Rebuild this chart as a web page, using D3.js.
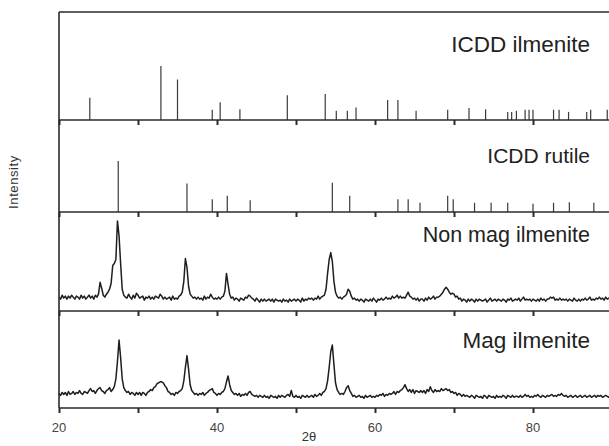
<!DOCTYPE html>
<html>
<head>
<meta charset="utf-8">
<script src="https://cdn.jsdelivr.net/npm/d3@7/dist/d3.min.js"></script>
<style>
  html, body { margin: 0; padding: 0; background: #fff; }
  svg { display: block; }
  text { font-family: "Liberation Sans", Arial, sans-serif; }
</style>
</head>
<body>
<div id="chart"></div>
<script>
// ---- Reference patterns (2θ in degrees, relative intensity) ----
const ilmeniteAngles = [23.9, 32.9, 35.0, 39.4, 40.4, 42.9, 48.9, 53.7, 55.1, 56.5, 57.6,
  61.6, 62.9, 65.2, 69.2, 71.9, 74.0, 76.8, 77.3, 77.9, 79.0, 79.5, 80.0,
  82.6, 83.3, 84.5, 86.8, 87.3, 89.4];
const ilmeniteIntensity = [41, 100, 75, 19, 33, 20, 46, 48, 17, 17, 23,
  37, 37, 17, 19, 22, 20, 15, 15, 17, 19, 19, 19,
  19, 19, 15, 15, 19, 19];

const rutileAngles = [27.5, 36.2, 39.4, 41.3, 44.2, 54.6, 56.8, 62.9, 64.2, 65.7,
  69.2, 69.9, 72.6, 74.7, 76.8, 80.0, 82.6, 84.6, 87.7];
const rutileIntensity = [100, 56, 25, 32, 23, 57, 32, 25, 25, 18,
  32, 25, 18, 18, 18, 16, 18, 19, 18];

// ---- Measured scans: 2θ from 20° to 90° in 0.2° steps ----
const scanStart = 20;
const scanStep = 0.2;

const nonMagCounts = [
  14,12,16,13,15,12,15,13,16,14,   // 20
  12,15,14,12,16,13,15,12,14,16,   // 22
  13,15,12,16,14,17,29,23,16,14,   // 24
  17,19,22,28,46,48,52,91,76,48,   // 26
  22,16,14,13,17,14,12,16,13,18,   // 28
  16,13,14,15,11,14,13,15,12,14,   // 30
  12,15,14,13,17,15,12,14,12,13,   // 32
  14,11,15,12,13,12,15,16,19,30,   // 34
  53,44,25,17,15,13,14,12,14,12,   // 36
  13,11,15,12,14,13,17,14,12,13,   // 38
  12,14,12,14,15,20,38,27,17,13,   // 40
  14,11,13,12,10,13,12,11,14,13,   // 42
  16,15,13,12,10,13,11,9,12,10,    // 44
  12,10,11,12,10,12,9,12,11,10,    // 46
  11,9,12,10,11,9,12,10,11,12,     // 48
  10,12,11,9,13,10,12,11,13,12,    // 50
  13,11,13,12,15,12,14,15,16,22,   // 52
  38,52,59,50,30,19,15,13,14,12,   // 54
  14,15,17,22,20,15,12,13,11,12,   // 56
  10,12,11,9,12,11,10,12,10,13,    // 58
  11,9,12,11,13,11,12,14,12,13,    // 60
  12,15,13,14,16,13,15,13,14,13,   // 62
  16,19,15,14,12,13,11,13,10,12,   // 64
  12,10,13,11,14,12,13,15,12,14,   // 66
  14,15,17,19,22,24,22,19,17,18,   // 68
  17,14,15,12,13,10,12,11,9,12,    // 70
  10,12,11,9,12,10,12,11,10,11,    // 72
  12,9,11,13,10,11,12,10,12,11,    // 74
  10,12,11,9,12,11,13,10,11,12,    // 76
  11,13,10,12,14,11,12,11,12,10,   // 78
  12,11,10,12,10,13,11,12,10,12,   // 80
  12,14,13,14,11,12,11,13,11,12,   // 82
  11,12,10,12,11,10,13,11,10,12,   // 84
  10,12,11,13,11,12,14,11,12,11,   // 86
  13,12,14,12,13,11,14,12,13,12,   // 88
  13                               // 90
];

const magCounts = [
  15,13,16,14,16,13,17,14,15,17,   // 20
  14,16,15,18,15,14,17,16,15,18,   // 22
  20,17,18,15,18,20,21,18,17,15,   // 24
  18,19,21,17,19,22,30,48,70,52,   // 26
  30,21,18,16,17,14,16,15,13,16,   // 28
  14,16,13,16,15,13,16,17,19,18,   // 30
  21,22,25,26,27,27,26,23,21,17,   // 32
  16,14,15,13,16,15,17,18,20,28,   // 34
  42,54,40,24,18,16,14,15,13,15,   // 36
  14,16,13,15,16,18,19,20,16,15,   // 38
  13,15,14,16,17,20,27,33,24,18,   // 40
  16,14,15,13,15,12,14,13,15,13,   // 42
  16,17,14,13,12,13,11,13,12,11,   // 44
  13,11,12,10,13,12,11,12,10,13,   // 46
  11,13,12,11,13,14,12,18,12,11,   // 48
  13,11,12,10,13,12,11,13,11,12,   // 50
  13,11,14,12,13,15,13,16,17,20,   // 52
  28,42,58,65,45,26,19,16,14,15,   // 54
  14,17,21,23,18,15,12,13,11,12,   // 56
  13,11,12,10,13,11,12,13,11,12,   // 58
  11,13,12,14,13,15,12,14,13,15,   // 60
  14,15,17,14,17,16,18,19,21,24,   // 62
  20,17,19,16,19,15,18,17,16,18,   // 64
  16,18,15,19,17,22,18,16,19,17,   // 66
  18,17,20,18,19,20,18,19,16,17,   // 68
  15,16,13,15,14,12,14,12,13,12,   // 70
  11,13,12,10,13,12,11,12,10,13,   // 72
  12,10,13,12,11,12,10,13,11,12,   // 74
  11,13,12,10,13,12,11,13,11,12,   // 76
  12,11,13,11,12,14,12,13,11,12,   // 78
  11,13,12,14,12,11,13,12,11,13,   // 80
  12,13,14,12,13,12,14,13,15,13,   // 82
  12,13,11,12,13,11,12,13,11,12,   // 84
  13,11,12,13,11,12,13,11,12,13,   // 86
  11,13,12,13,11,12,13,12,11,13,   // 88
  12                               // 90
];

const panelLabels = ["ICDD ilmenite", "ICDD rutile", "Non mag ilmenite", "Mag ilmenite"];
const xTickValues = [20, 30, 40, 50, 60, 70, 80, 90];
const xTickLabels = ["20", "40", "60", "80"];
const xTitle = "2θ";
const yTitle = "Intensity";

// ---- Layout ----
const W = 609, H = 446;
const svg = d3.select("#chart").append("svg").attr("width", W).attr("height", H);

const x = d3.scaleLinear().domain([20, 90]).range([59, 612]);

const panels = [
  { top: 12,  bottom: 120, yMax: 200, kind: "stick", angles: ilmeniteAngles, values: ilmeniteIntensity, fs: 22.5, base: 52 },
  { top: 120, bottom: 212, yMax: 180, kind: "stick", angles: rutileAngles,   values: rutileIntensity,   fs: 21,   base: 163 },
  { top: 212, bottom: 311, yMax: 100, kind: "scan",  values: nonMagCounts, fs: 21.5, base: 242 },
  { top: 311, bottom: 408, yMax: 100, kind: "scan",  values: magCounts,    fs: 22.5, base: 348 }
];

const frameColor = "#2a2a2a";

panels.forEach((p, k) => {
  const y = d3.scaleLinear().domain([0, p.yMax]).range([p.bottom, p.top]);
  const g = svg.append("g");

  if (p.kind === "stick") {
    g.selectAll("line.stick")
      .data(p.angles.map((a, i) => [a, p.values[i]]))
      .join("line")
      .attr("class", "stick")
      .attr("x1", d => x(d[0])).attr("x2", d => x(d[0]))
      .attr("y1", y(0)).attr("y2", d => y(d[1]))
      .attr("stroke", "#3a3a3a")
      .attr("stroke-width", 1.2);
  } else {
    const line = d3.line()
      .x((d, i) => x(scanStart + i * scanStep))
      .y(d => y(d));
    g.append("path")
      .datum(p.values)
      .attr("d", line)
      .attr("fill", "none")
      .attr("stroke", "#1e1e1e")
      .attr("stroke-width", 1.5)
      .attr("stroke-linejoin", "round");
  }

  g.append("text")
    .attr("x", 590).attr("y", p.base)
    .attr("text-anchor", "end")
    .attr("font-size", p.fs)
    .attr("fill", "#222")
    .text(panelLabels[k]);

  // bottom axis of each panel: ticks point downward from the separator
  const axis = d3.axisBottom(x).tickValues(xTickValues).tickSize(5).tickFormat("");
  const ag = svg.append("g").attr("transform", `translate(0,${p.bottom})`).call(axis);
  ag.select(".domain").remove();
  ag.selectAll(".tick line").attr("stroke", frameColor).attr("stroke-width", 2);
});

// frame: top border, left border and panel separators
svg.append("line").attr("x1", 59).attr("x2", 612).attr("y1", 12).attr("y2", 12)
  .attr("stroke", frameColor).attr("stroke-width", 1.4);
panels.forEach(p => {
  svg.append("line").attr("x1", 59).attr("x2", 612).attr("y1", p.bottom).attr("y2", p.bottom)
    .attr("stroke", frameColor).attr("stroke-width", 1.6);
});
svg.append("line").attr("x1", 59).attr("x2", 59).attr("y1", 12).attr("y2", 408)
  .attr("stroke", frameColor).attr("stroke-width", 1.6);

// tick labels
svg.append("g").selectAll("text")
  .data(xTickLabels)
  .join("text")
  .attr("x", d => x(+d)).attr("y", 432)
  .attr("text-anchor", "middle")
  .attr("font-size", 13)
  .attr("fill", "#444")
  .text(d => d);

// axis titles
svg.append("text")
  .attr("x", 309).attr("y", 441)
  .attr("text-anchor", "middle")
  .attr("font-size", 13)
  .attr("fill", "#333")
  .text(xTitle);

svg.append("text")
  .attr("transform", "translate(18,182) rotate(-90)")
  .attr("text-anchor", "middle")
  .attr("font-size", 13)
  .attr("letter-spacing", 0.6)
  .attr("fill", "#333")
  .text(yTitle);
</script>
</body>
</html>
